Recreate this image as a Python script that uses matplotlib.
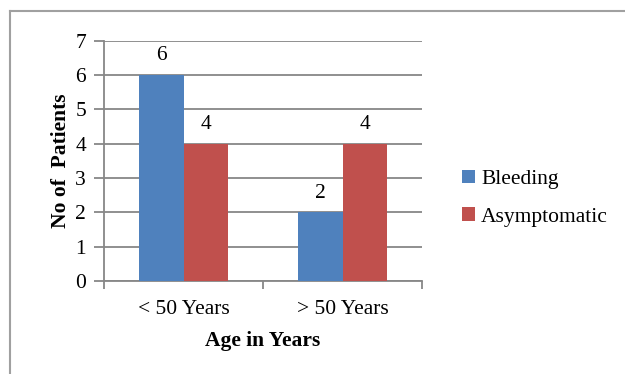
import numpy as np
import matplotlib.pyplot as plt
from matplotlib.lines import Line2D

# Данные
groups = ['< 50 Years', '> 50 Years']
bleeding = [6, 2]
asymptomatic = [4, 4]

plt.rcParams['font.family'] = ['Liberation Serif', 'DejaVu Serif']

blue = '#4F81BD'
red = '#C0504D'
grid_c = '#878787'
fs = 15.5

fig = plt.figure(figsize=(6.25, 3.74), dpi=100)
ax = fig.add_axes([0.1664, 0.2487, 0.5088, 0.643])

x = np.arange(len(groups))
w = 0.283
b1 = ax.bar(x - w / 2, bleeding, w, color=blue, label='Bleeding', zorder=3)
b2 = ax.bar(x + w / 2, asymptomatic, w, color=red, label='Asymptomatic', zorder=3)

# Подписи значений над столбцами
for bars, vals in ((b1, bleeding), (b2, asymptomatic)):
    for rect, v in zip(bars, vals):
        ax.annotate(str(v), (rect.get_x() + rect.get_width() / 2, v),
                    xytext=(0, 7), textcoords='offset points',
                    ha='center', va='bottom', fontsize=fs)

ax.set_xlim(-0.5, 1.5)
ax.set_ylim(0, 7)
ax.set_yticks(range(0, 8))
ax.yaxis.grid(True, color=grid_c, linewidth=1.3, zorder=0)
ax.set_axisbelow(True)

# Метки категорий по центру, деления - на границах групп
ax.set_xticks([-0.5, 0.5, 1.5])
ax.set_xticklabels([])
ax.set_xticks(x, minor=True)
ax.set_xticklabels(groups, minor=True, fontsize=fs)
ax.tick_params(axis='x', which='minor', length=0, pad=14)
ax.tick_params(axis='x', which='major', length=6, color=grid_c, width=1.3)
ax.tick_params(axis='y', length=7, color=grid_c, width=1.3, labelsize=fs, pad=6)

for s in ('top', 'right'):
    ax.spines[s].set_visible(False)
for s in ('left', 'bottom'):
    ax.spines[s].set_color(grid_c)
    ax.spines[s].set_linewidth(1.3)

ax.set_xlabel('Age in Years', fontsize=fs, fontweight='bold', labelpad=8)
ax.set_ylabel('No of  Patients', fontsize=fs, fontweight='bold', labelpad=3)

fig.legend(handles=[b1, b2], loc='center left', bbox_to_anchor=(0.725, 0.47),
           frameon=False, fontsize=fs, handlelength=0.6, handleheight=0.6,
           handletextpad=0.3, labelspacing=0.85, borderaxespad=0)

# Рамка области диаграммы (верх и левый край)
fig.add_artist(Line2D([0.0152, 1.0], [0.971, 0.971], color='#A0A0A0', lw=1.5,
                      transform=fig.transFigure))
fig.add_artist(Line2D([0.0152, 0.0152], [0.0, 0.971], color='#A0A0A0', lw=1.5,
                      transform=fig.transFigure))

fig.savefig('out.png', dpi=100)
